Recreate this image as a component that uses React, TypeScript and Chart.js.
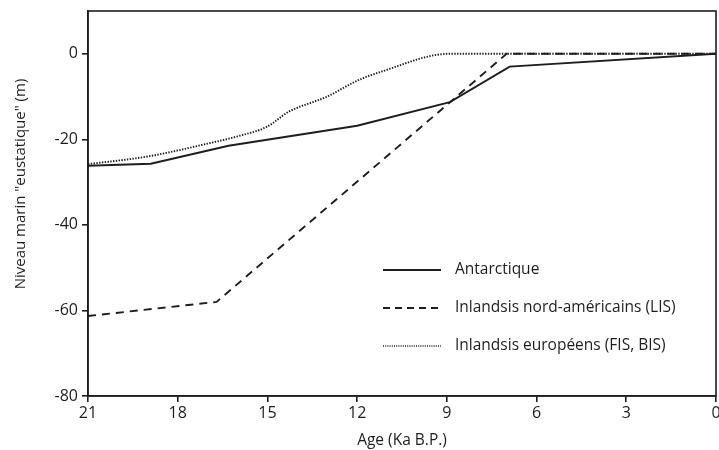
import React, { useEffect, useRef } from "react";
import { Chart, registerables } from "chart.js";

Chart.register(...registerables);

const antarcticAges = [21, 18.9, 16.3, 12, 8.9, 6.9, 0];
const antarcticLevels = [-26.2, -25.7, -21.5, -16.8, -11.3, -3, 0];

const lisAges = [21, 16.7, 7, 0];
const lisLevels = [-61.3, -58, 0, 0];

const europeAges = [21, 19, 17, 16, 15, 14.3, 13, 12, 11.2, 8.9, 0];
const europeLevels = [-25.8, -24, -21, -19.3, -17, -13.6, -10, -6.3, -4.2, 0, 0];

const xTicks = [21, 18, 15, 12, 9, 6, 3, 0];
const yTicks = [-80, -60, -40, -20, 0];

const legendLabels = [
  "Antarctique",
  "Inlandsis nord-américains (LIS)",
  "Inlandsis européens (FIS, BIS)",
];
const yTitle = 'Niveau marin "eustatique" (m)';
const xTitle = "Age (Ka B.P.)";

const FONT = "'Open Sans', 'Noto Sans', sans-serif";
const INK = "#1e1e1e";

const toPoints = (xs: number[], ys: number[]) => xs.map((x, i) => ({ x, y: ys[i] }));

const frameAndLegend = {
  id: "frameAndLegend",
  afterDraw(chart: any) {
    const { ctx, chartArea } = chart;
    ctx.save();
    ctx.strokeStyle = INK;
    ctx.lineWidth = 1.6;
    ctx.setLineDash([]);
    ctx.strokeRect(chartArea.left, chartArea.top, chartArea.right - chartArea.left, chartArea.bottom - chartArea.top);

    // y-axis title
    ctx.save();
    ctx.translate(21, 184);
    ctx.rotate(-Math.PI / 2);
    ctx.font = `15px ${FONT}`;
    ctx.textAlign = "center";
    ctx.textBaseline = "middle";
    ctx.fillStyle = INK;
    ctx.fillText(yTitle, 0, 0);
    ctx.restore();

    const dashes = [[], [7, 5], [1, 1.2]];
    const widths = [1.8, 1.8, 1.3];
    const x0 = chartArea.left + 295;
    const y0 = chartArea.top + 259;
    const gap = 38;
    ctx.font = `15.5px ${FONT}`;
    ctx.textBaseline = "middle";
    ctx.fillStyle = INK;
    legendLabels.forEach((label, i) => {
      const y = y0 + i * gap;
      ctx.beginPath();
      ctx.setLineDash(dashes[i]);
      ctx.lineWidth = widths[i];
      ctx.moveTo(x0, y);
      ctx.lineTo(x0 + 58, y);
      ctx.stroke();
      ctx.setLineDash([]);
      ctx.fillText(label, x0 + 72, y);
    });
    ctx.restore();
  },
};

export default function App() {
  const ref = useRef<HTMLCanvasElement>(null);

  useEffect(() => {
    if (!ref.current) return;
    const chart = new Chart(ref.current, {
      type: "line",
      data: {
        datasets: [
          {
            label: legendLabels[0],
            data: toPoints(antarcticAges, antarcticLevels),
            borderColor: INK,
            borderWidth: 2,
            pointRadius: 0,
            fill: false,
            tension: 0,
          },
          {
            label: legendLabels[1],
            data: toPoints(lisAges, lisLevels),
            borderColor: INK,
            borderWidth: 1.9,
            borderDash: [8, 6],
            pointRadius: 0,
            fill: false,
            tension: 0,
          },
          {
            label: legendLabels[2],
            data: toPoints(europeAges, europeLevels),
            borderColor: INK,
            borderWidth: 1.9,
            borderDash: [1.4, 1.4],
            pointRadius: 0,
            fill: false,
            cubicInterpolationMode: "monotone",
          },
        ],
      },
      options: {
        animation: false,
        responsive: false,
        layout: { padding: { left: 0, top: 11, right: 3, bottom: 0 } },
        plugins: { legend: { display: false }, tooltip: { enabled: false } },
        scales: {
          x: {
            type: "linear",
            reverse: true,
            min: 0,
            max: 21,
            afterBuildTicks: (scale: any) => {
              scale.ticks = xTicks.map((v) => ({ value: v }));
            },
            afterFit: (scale: any) => {
              scale.height = 54;
              scale.paddingLeft = 0;
              scale.paddingRight = 0;
            },
            border: { display: true, color: INK, width: 1.6 },
            grid: { drawOnChartArea: false, drawTicks: true, tickLength: 6, color: INK, lineWidth: 1.6 },
            ticks: { color: INK, font: { family: FONT, size: 16 }, padding: 2, maxRotation: 0, autoSkip: false },
            title: { display: true, text: xTitle, color: INK, font: { family: FONT, size: 15.5 }, padding: { top: 0, bottom: 0 } },
          },
          y: {
            type: "linear",
            min: -80,
            max: 10,
            afterBuildTicks: (scale: any) => {
              scale.ticks = yTicks.map((v) => ({ value: v }));
            },
            afterFit: (scale: any) => {
              scale.width = 88;
              scale.paddingTop = 0;
              scale.paddingBottom = 0;
            },
            border: { display: true, color: INK, width: 1.6 },
            grid: { drawOnChartArea: false, drawTicks: true, tickLength: 6, color: INK, lineWidth: 1.6 },
            ticks: { color: INK, font: { family: FONT, size: 16 }, padding: 4 },
            title: { display: false },
          },
        },
      },
      plugins: [frameAndLegend],
    });
    return () => chart.destroy();
  }, []);

  return (
    <div style={{ position: "fixed", left: 0, top: 0, width: 719, height: 450, background: "#fff" }}>
      <canvas ref={ref} width={719} height={450} style={{ display: "block" }} />
    </div>
  );
}
